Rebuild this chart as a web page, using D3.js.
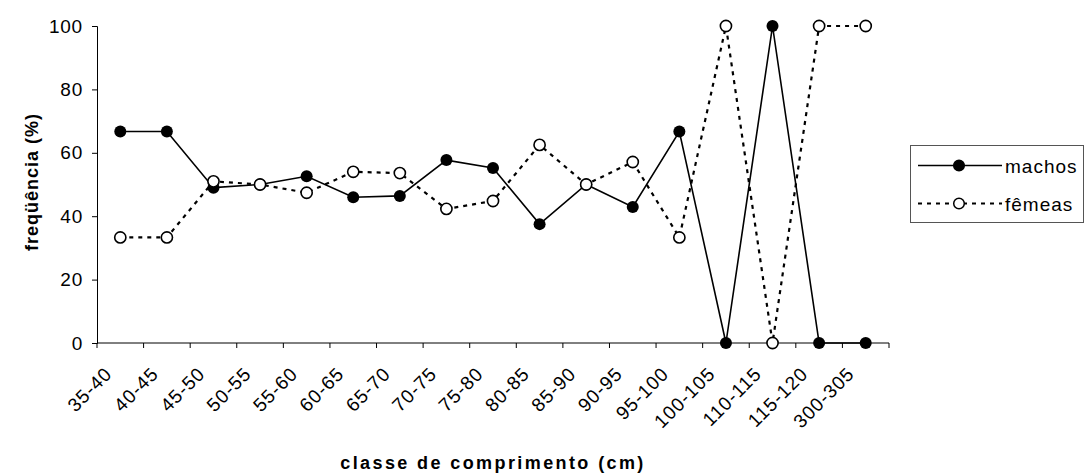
<!DOCTYPE html>
<html>
<head>
<meta charset="utf-8">
<script src="https://cdn.jsdelivr.net/npm/d3@7"></script>
<style>
  html, body { margin: 0; padding: 0; background: #fff; }
  svg { display: block; font-family: Arial, "Liberation Sans", sans-serif; }
</style>
</head>
<body>
<svg id="chart" width="1085" height="476"></svg>
<script>
const categories = ["35-40","40-45","45-50","50-55","55-60","60-65","65-70","70-75","75-80","80-85","85-90","90-95","95-100","100-105","110-115","115-120","300-305"];
const machos = [66.7, 66.7, 49.0, 50.0, 52.6, 46.0, 46.4, 57.7, 55.2, 37.5, 50.0, 42.9, 66.7, 0, 100, 0, 0];
const femeas = [33.3, 33.3, 51.0, 50.0, 47.4, 54.0, 53.6, 42.3, 44.8, 62.5, 50.0, 57.1, 33.3, 100, 0, 100, 100];
const yTicks = [0, 20, 40, 60, 80, 100];
const seriesNames = ["machos", "fêmeas"];

(function () {
const svg = d3.select("#chart");
const pLeft = 97, pRight = 889, pTop = 26, pBottom = 343;

const x = d3.scaleBand().domain(categories).range([pLeft, pRight]).padding(0);
const y = d3.scaleLinear().domain([0, 100]).range([pBottom, pTop]);

// Y axis
const yAxis = svg.append("g")
  .attr("transform", `translate(${pLeft},0)`)
  .call(d3.axisLeft(y).tickValues(yTicks).tickSize(5).tickPadding(9));
yAxis.select(".domain").attr("stroke", "#000");
yAxis.selectAll(".tick line").attr("stroke", "#000");
yAxis.selectAll(".tick text").attr("font-size", 19).attr("fill", "#000")
  .attr("font-family", "Arial, 'Liberation Sans', sans-serif").attr("letter-spacing", "0.8px");

// X axis with ticks at band boundaries
const xAxisG = svg.append("g").attr("transform", `translate(0,${pBottom})`);
xAxisG.append("line").attr("x1", pLeft).attr("x2", pRight).attr("y1", 0).attr("y2", 0).attr("stroke", "#000");
const boundaries = categories.map(c => x(c)).concat([pRight]);
xAxisG.selectAll("line.tk").data(boundaries).join("line").attr("class", "tk")
  .attr("x1", d => d).attr("x2", d => d).attr("y1", 0).attr("y2", 5).attr("stroke", "#000");
xAxisG.selectAll("text").data(categories).join("text")
  .attr("transform", (d, i) => `translate(${x(d) + x.bandwidth() / 2 - 7 - 0.2 * i},${32}) rotate(-45)`)
  .attr("text-anchor", "end")
  .attr("font-size", 19).attr("letter-spacing", "1px").attr("fill", "#000")
  .text(d => d);

// Axis titles
svg.append("text")
  .attr("x", (pLeft + pRight) / 2).attr("y", 469)
  .attr("text-anchor", "middle").attr("font-size", 18).attr("font-weight", "bold")
  .attr("letter-spacing", "2.4px").text("classe de comprimento (cm)");
svg.append("text")
  .attr("transform", `translate(38,182) rotate(-90)`)
  .attr("text-anchor", "middle").attr("font-size", 18).attr("font-weight", "bold")
  .attr("letter-spacing", "1px").text("freqüência (%)");

const cx = (d, i) => x(categories[i]) + x.bandwidth() / 2;
const line = d3.line().x((d, i) => x(categories[i]) + x.bandwidth() / 2).y(d => y(d));

// machos
svg.append("path").datum(machos).attr("d", line)
  .attr("fill", "none").attr("stroke", "#000").attr("stroke-width", 1.6);
svg.selectAll("circle.m").data(machos).join("circle").attr("class", "m")
  .attr("cx", cx).attr("cy", d => y(d)).attr("r", 6).attr("fill", "#000");

// femeas
svg.append("path").datum(femeas).attr("d", line)
  .attr("fill", "none").attr("stroke", "#000").attr("stroke-width", 2.2).attr("stroke-dasharray", "4,5");
svg.selectAll("circle.f").data(femeas).join("circle").attr("class", "f")
  .attr("cx", cx).attr("cy", d => y(d)).attr("r", 5.6).attr("fill", "#fff")
  .attr("stroke", "#000").attr("stroke-width", 1.6);

// Legend
const lg = svg.append("g");
lg.append("rect").attr("x", 910.5).attr("y", 145.5).attr("width", 173).attr("height", 77)
  .attr("fill", "#fff").attr("stroke", "#555").attr("stroke-width", 1);
const legendRows = [
  {name: seriesNames[0], yy: 165.5, dash: null, sw: 1.6, fill: "#000"},
  {name: seriesNames[1], yy: 203.5, dash: "4,5", sw: 2.2, fill: "#fff"}
];
legendRows.forEach(r => {
  lg.append("line").attr("x1", 918).attr("x2", 1002).attr("y1", r.yy).attr("y2", r.yy)
    .attr("stroke", "#000").attr("stroke-width", r.sw).attr("stroke-dasharray", r.dash);
  lg.append("circle").attr("cx", 959).attr("cy", r.yy).attr("r", 5.3)
    .attr("fill", r.fill).attr("stroke", "#000").attr("stroke-width", 1.5);
  lg.append("text").attr("x", 1005).attr("y", r.yy + 7).attr("font-size", 19)
    .attr("letter-spacing", "1px").text(r.name);
});
})();
</script>
</body>
</html>
